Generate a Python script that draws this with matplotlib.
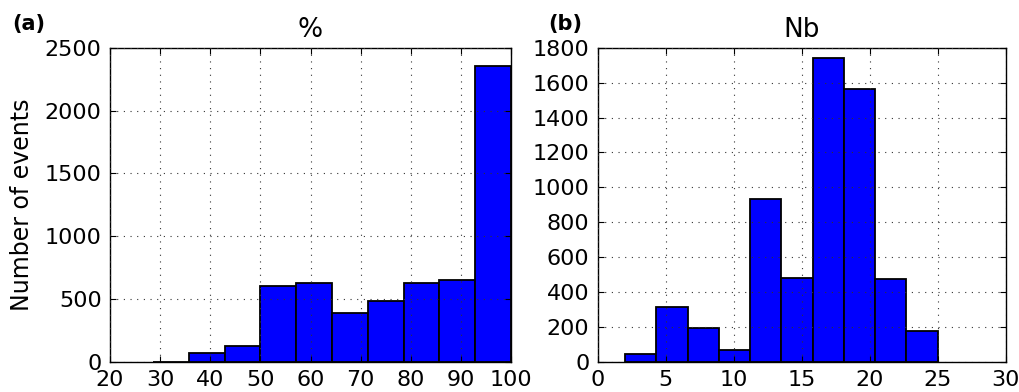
import numpy as np
import matplotlib
matplotlib.use("Agg")
import matplotlib.pyplot as plt

# Histogram (a): percentage, bin edges and counts
pct_edges = [28.57, 35.71, 42.86, 50.0, 57.14, 64.29, 71.43, 78.57, 85.71, 92.86, 100.0]
pct_counts = [0, 70, 125, 605, 629, 390, 483, 629, 653, 2352]
pct_ticks = [20, 30, 40, 50, 60, 70, 80, 90, 100]

# Histogram (b): Nb
nb_edges = [2.0, 4.3, 6.6, 8.9, 11.2, 13.5, 15.8, 18.1, 20.4, 22.7, 25.0]
nb_counts = [42, 315, 191, 67, 934, 480, 1743, 1563, 472, 176]
nb_ticks = [0, 5, 10, 15, 20, 25, 30]

plt.rcParams.update({
    "font.family": "DejaVu Sans",
    "xtick.direction": "in",
    "ytick.direction": "in",
    "xtick.top": True,
    "ytick.right": True,
    "xtick.major.size": 4,
    "ytick.major.size": 4,
    "xtick.major.pad": 6,
    "ytick.major.pad": 6,
    "xtick.labelsize": 16,
    "ytick.labelsize": 16,
    "axes.linewidth": 1.0,
    "axes.axisbelow": False,
})


def draw_hist(ax, edges, counts, title):
    edges = np.asarray(edges)
    ax.bar(edges[:-1], counts, width=np.diff(edges), align="edge",
           color="#0000ff", edgecolor="black", linewidth=1.3, zorder=1)
    ax.grid(True, color="#333333", linewidth=0.8, dashes=(1, 5), zorder=2)
    ax.set_title(title, fontsize=19, pad=8)


fig = plt.figure(figsize=(10.19, 3.92), dpi=100)
ax1 = fig.add_axes([0.108, 0.0773, 0.3935, 0.8006])
ax2 = fig.add_axes([0.5866, 0.0773, 0.4004, 0.8006])

draw_hist(ax1, pct_edges, pct_counts, "%")
ax1.set_xlim(20, 100)
ax1.set_ylim(0, 2500)
ax1.set_xticks(pct_ticks)
ax1.set_yticks([0, 500, 1000, 1500, 2000, 2500])
ax1.set_ylabel("Number of events", fontsize=17, labelpad=8)

draw_hist(ax2, nb_edges, nb_counts, "Nb")
ax2.set_xlim(0, 30)
ax2.set_ylim(0, 1800)
ax2.set_xticks(nb_ticks)
ax2.set_yticks(range(0, 1801, 200))

fig.text(0.012, 0.965, "(a)", fontsize=15, fontweight="bold", va="top")
fig.text(0.538, 0.965, "(b)", fontsize=15, fontweight="bold", va="top")

fig.savefig("out.png", dpi=100, facecolor="white")
